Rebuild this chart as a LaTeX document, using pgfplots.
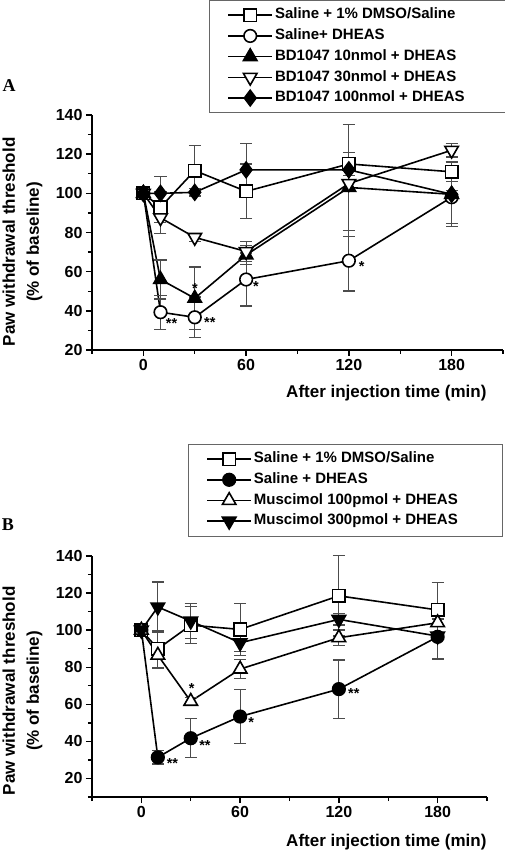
\documentclass[border=0pt]{standalone}
\usepackage{pgfplots}
\pgfplotsset{compat=1.18}
\usepackage{fontspec}
\setmainfont{Liberation Sans}
\newfontfamily\serifbf{Liberation Serif}
\tikzset{ast/.style={font=\fontsize{14.5}{17}\selectfont\bfseries, anchor=base, inner sep=0pt, yshift=-8pt}}
\newcommand{\LA}[1]{\makebox[212pt][l]{#1}}
\newcommand{\LB}[1]{\makebox[228pt][l]{#1}}
\pgfplotsset{
  scale only axis,
  axis x line*=bottom, axis y line*=left,
  axis line style={line width=1.6pt, -},
  xmin=-30, xmax=210,
  xtick={0,60,120,180},
  minor xtick={-30,30,90,150,210},
  ytick={20,40,...,140},
  tick align=outside,
  major tick length=6pt, minor tick length=4pt,
  every tick/.style={line width=1.4pt, black},
  tick label style={font=\fontsize{16}{18}\selectfont\bfseries},
  /pgf/number format/assume math mode=true,
  label style={font=\fontsize{17}{24}\selectfont\bfseries},
  xlabel={After injection time (min)},
  ylabel={Paw withdrawal threshold\\(\% of baseline)},
  clip=false,
  legend cell align=left,
  legend style={draw=gray!80!black, line width=0.8pt, font=\fontsize{15}{17}\selectfont\bfseries,
    inner xsep=18pt, inner ysep=6pt, row sep=3.2pt,
    nodes={inner sep=2pt, text height=10.5pt, text depth=3pt}},
  legend image code/.code={\draw[mark repeat=2,mark phase=2,#1] plot coordinates {(0pt,0pt) (22pt,0pt) (44pt,0pt)};},
  every axis plot/.append style={line width=1.6pt, black, mark size=6.3pt},
  error bars/y dir=both, error bars/y explicit,
  error bars/error bar style={line width=1.2pt, gray!60!black, solid},
  error bars/error mark options={rotate=90, mark size=6pt, line width=1.2pt, gray!60!black, solid},
  sq/.style={mark=square*, mark options={fill=white, solid}},
  ci/.style={mark=*, mark options={fill=white, solid}},
  fci/.style={mark=*, mark options={fill=black, solid}},
  tu/.style={mark=triangle*, mark size=7.8pt, mark options={fill=white, solid}},
  ftu/.style={mark=triangle*, mark size=7.8pt, mark options={fill=black, solid}},
  td/.style={mark=triangle*, mark size=7.8pt, mark options={fill=white, solid, rotate=180}},
  ftd/.style={mark=triangle*, mark size=7.8pt, mark options={fill=black, solid, rotate=180}},
  fdi/.style={mark=diamond*, mark size=7.8pt, mark options={fill=black, solid}},
}
\begin{document}
\begin{tikzpicture}
\useasboundingbox (0pt,0pt) rectangle (505pt,852pt);
\node[font=\serifbf\fontsize{18}{20}\selectfont\bfseries] at (9pt,766pt) {A};
\node[font=\serifbf\fontsize{18}{20}\selectfont\bfseries] at (8pt,327pt) {B};
% ---------------- Panel A
\begin{axis}[
  at={(92pt,502pt)}, anchor=south west,
  width=411pt, height=235pt,
  ymin=20, ymax=140,
  minor ytick={30,50,...,130},
  xlabel style={at={(axis description cs:1,0)}, anchor=base east, yshift=-48pt, xshift=-13pt},
  ylabel style={align=center, at={(axis description cs:-0.169,0.46)}, anchor=center},
  legend style={at={(axis description cs:0.2847,1.489)}, anchor=north west},
]
\addplot[sq] coordinates {(0,100) +- (0,1) (10,92.9) +- (0,8) (30,111.6) +- (0,13) (60,101) +- (0,14) (120,115) +- (0,3) (180,111) +- (0,5)};
\addlegendentry{\LA{Saline + 1\% DMSO/Saline}}
\addplot[ci] coordinates {(0,100) +- (0,1) (10,39.3) +- (0,8.7) (30,36.7) +- (0,10.4) (60,56) +- (0,13.5) (120,65.6) +- (0,15.5) (180,98) +- (0,15)};
\addlegendentry{\LA{Saline+ DHEAS}}
\addplot[ftu] coordinates {(0,100) +- (0,1) (10,56) +- (0,10) (30,46.4) +- (0,16) (60,68.5) +- (0,5) (120,103) += (0,32) -= (0,25) (180,99.5) +- (0,14.8)};
\addlegendentry{\LA{BD1047 10nmol + DHEAS}}
\addplot[td] coordinates {(0,100) +- (0,1) (10,87.5) +- (0,8) (30,77.5) +- (0,2) (60,70.3) +- (0,5) (120,105) += (0,15.8) -= (0,24) (180,122) +- (0,3.5)};
\addlegendentry{\LA{BD1047 30nmol + DHEAS}}
\addplot[fdi] coordinates {(0,100) +- (0,1) (10,100) +- (0,8.5) (30,100.5) +- (0,2) (60,112) +- (0,13.6) (120,112) +- (0,3) (180,99.5) +- (0,2)};
\addlegendentry{\LA{BD1047 100nmol + DHEAS}}
\node[ast] at (axis cs:16.5,35) {**};
\node[ast] at (axis cs:38.8,35.8) {**};
\node[ast] at (axis cs:30.1,52.8) {*};
\node[ast] at (axis cs:65.8,54) {*};
\node[ast] at (axis cs:127.5,64.3) {*};
\end{axis}
% ---------------- Panel B
\begin{axis}[
  at={(92pt,55pt)}, anchor=south west,
  width=395pt, height=241pt,
  ymin=10, ymax=140,
  minor ytick={10,30,...,130},
  xlabel style={at={(axis description cs:1,0)}, anchor=base east, yshift=-49pt, xshift=3pt},
  ylabel style={align=center, at={(axis description cs:-0.176,0.44)}, anchor=center},
  legend style={at={(axis description cs:0.243,1.465)}, anchor=north west},
]
\addplot[sq] coordinates {(0,100) +- (0,1) (10,89.9) +- (0,10) (30,102.7) +- (0,10) (60,100.4) +- (0,14) (120,118.5) +- (0,21.6) (180,110.9) +- (0,15)};
\addlegendentry{\LB{Saline + 1\% DMSO/Saline}}
\addplot[fci] coordinates {(0,100) +- (0,1) (10,31.4) +- (0,3.6) (30,41.7) +- (0,10.5) (60,53.4) +- (0,14.4) (120,68.2) +- (0,15.7) (180,96.4) +- (0,12)};
\addlegendentry{\LB{Saline + DHEAS}}
\addplot[tu] coordinates {(0,100) +- (0,1) (10,86.5) +- (0,7) (30,61.6) +- (0,2) (60,79) +- (0,5) (120,95.9) +- (0,4.2) (180,104) +- (0,2)};
\addlegendentry{\LB{Muscimol 100pmol + DHEAS}}
\addplot[ftd] coordinates {(0,100) +- (0,1) (10,112.5) +- (0,13.5) (30,104.9) +- (0,9.5) (60,93.2) +- (0,4.5) (120,105.8) +- (0,3) (180,96.8) +- (0,2)};
\addlegendentry{\LB{Muscimol 300pmol + DHEAS}}
\node[ast] at (axis cs:18.9,29.9) {**};
\node[ast] at (axis cs:38.6,39.3) {**};
\node[ast] at (axis cs:66.7,51.6) {*};
\node[ast] at (axis cs:129.1,67.5) {**};
\node[ast] at (axis cs:30.5,70) {*};
\end{axis}
\end{tikzpicture}
\end{document}
